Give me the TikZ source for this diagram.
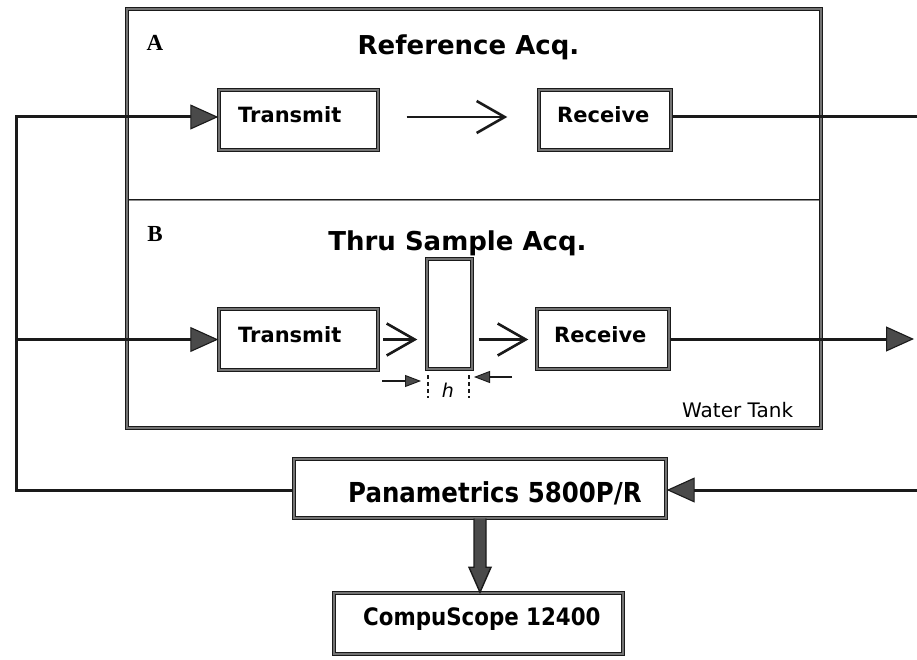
\documentclass[tikz,border=0pt]{standalone}
\usepackage{fontspec}
\setmainfont{DejaVu Sans}
\newfontfamily\condfont{DejaVu Sans}[FakeStretch=0.89]
\newfontfamily\letterfont{Liberation Serif}
\usetikzlibrary{arrows.meta,calc}
\definecolor{ink}{HTML}{1A1A1A}
\definecolor{headgray}{HTML}{4A4A4A}
\begin{document}
\begin{tikzpicture}[x=1pt,y=-1pt,
  box/.style={draw=ink, line width=1.45pt, double=black!55, double distance=1.1pt, inner sep=0pt, rectangle},
  thinbox/.style={draw=ink, line width=0.9pt, double=black!45, double distance=0.6pt},
  conn/.style={draw=ink, line width=3pt},
  tri/.style={-{Triangle[length=28pt,width=25pt,fill=headgray,line width=1.1pt]}},
  openarr/.style={draw=ink, line width=2.6pt, -{Straight Barb[length=28pt,width=32pt]}},
  dimarr/.style={draw=ink, line width=1.5pt, -{Triangle[length=16pt,width=12pt,fill=headgray,line width=0.9pt]}},
  dimdash/.style={draw=ink, line width=1.1pt, dash pattern=on 4pt off 3pt},
  txt/.style={anchor=base west, inner sep=0pt},
  boxtxt/.style={txt, font=\fontsize{21}{25}\selectfont\bfseries},
  title/.style={anchor=base, inner sep=0pt, font=\fontsize{26}{30}\selectfont\bfseries},
  letter/.style={anchor=base, inner sep=0pt, font=\letterfont\fontsize{23}{27}\selectfont\bfseries}
]
\useasboundingbox (0,0) rectangle (917,660);

% water tank
\coordinate (divL) at (127,200);
\coordinate (divR) at (821,200);
\draw[thinbox] (divL) -- (divR);
\node[box, minimum width=694pt, minimum height=419pt] (tank) at (474,218.5) {};

% boxes
\node[box, minimum width=159pt, minimum height=60pt] (tA) at (298.5,120) {};
\node[box, minimum width=132pt, minimum height=60pt] (rA) at (605,120) {};
\node[box, minimum width=159pt, minimum height=61pt] (tB) at (298.5,339.5) {};
\node[box, minimum width=132pt, minimum height=60pt] (rB) at (603,339) {};
\node[box, minimum width=45pt, minimum height=110pt] (sample) at (449.5,314) {};
\node[box, minimum width=372pt, minimum height=59pt] (pana) at (480,488.5) {};
\node[box, minimum width=289pt, minimum height=61pt] (scope) at (478.5,623.5) {};

% texts
\node[letter] (lA) at (155,51) {A};
\node[letter] (lB) at (155,241) {B};
\node[title] (titA) at (468.5,55) {Reference Acq.};
\node[title] (titB) at (457.5,250) {Thru Sample Acq.};
\node[boxtxt] (xtA) at (238,123) {Transmit};
\node[boxtxt] (xrA) at (557,123) {Receive};
\node[boxtxt] (xtB) at (238,342) {Transmit};
\node[boxtxt] (xrB) at (554,342) {Receive};
\node[txt, font=\fontsize{20}{24}\selectfont] (water) at (682,417) {Water Tank};
\node[txt, font=\condfont\fontsize{27.5}{32}\selectfont\bfseries] (xpana) at (348,502) {Panametrics 5800P/R};
\node[txt, font=\condfont\fontsize{24}{28}\selectfont\bfseries] (xscope) at (363,625) {CompuScope 12400};
\node[anchor=base, inner sep=0pt, font=\fontsize{19}{23}\selectfont\itshape] (hlab) at (448,397) {h};

% left loop
\coordinate (lfttop) at (16.5,117);
\coordinate (lftmid) at (16.5,339.5);
\coordinate (lftbot) at (16.5,490);
\draw[conn, line join=miter, tri] (lftbot -| pana.west) -- (lftbot) -- (lfttop) -- (lfttop -| tA.west);
\draw[conn, tri] (lftmid) -- (tB.west);

% right side
\coordinate (outTop) at (917,117);
\coordinate (outMid) at (914,339);
\coordinate (inR) at (917,490);
\draw[conn] (outTop -| rA.east) -- (outTop);
\draw[conn, tri] (rB.east) -- (outMid);
\draw[conn, tri] (inR) -- (inR -| pana.east);

% open arrows
\draw[openarr, shorten <=28pt, shorten >=31pt] (lfttop -| tA.east) -- (lfttop -| rA.west);
\draw[openarr, shorten <=4.5pt, shorten >=9pt] (tB.east |- lftmid) -- (sample.west |- lftmid);
\draw[openarr, shorten <=6pt, shorten >=8pt] (sample.east |- lftmid) -- (rB.west |- lftmid);

% block arrow down
\coordinate (ab) at (pana.south);
\coordinate (at) at (pana.south |- scope.north);
\draw[draw=ink, line width=1.4pt, fill=headgray, line join=miter]
  ($(ab)+(-6,0)$) -- ($(at)+(-6,-25)$) -- ($(at)+(-11,-25)$) -- (at)
  -- ($(at)+(11,-25)$) -- ($(at)+(6,-25)$) -- ($(ab)+(6,0)$);

% thickness h
\coordinate (dL1) at (428,375);
\coordinate (dL2) at (428,398);
\coordinate (dR1) at (469,375);
\coordinate (dR2) at (469,398);
\draw[dimdash] (dL1) -- (dL2);
\draw[dimdash] (dR1) -- (dR2);
\coordinate (aL) at (382,381);
\coordinate (aR) at (512,377);
\draw[dimarr] (aL) -- ($(aL -| dL1)+(-7,0)$);
\draw[dimarr] (aR) -- ($(aR -| dR1)+(5,0)$);
\end{tikzpicture}
\end{document}
